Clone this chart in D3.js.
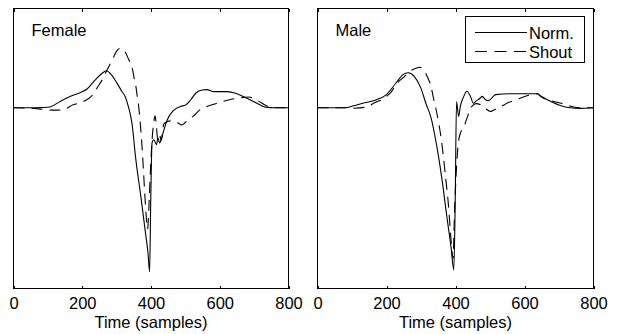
<!DOCTYPE html>
<html>
<head>
<meta charset="utf-8">
<script src="https://cdn.jsdelivr.net/npm/d3@7"></script>
<style>
  html, body { margin: 0; padding: 0; background: #fff; }
  svg { display: block; }
  text { font-family: "Liberation Sans", Arial, Helvetica, sans-serif; fill: #000; }
</style>
</head>
<body>
<svg id="chart" width="619" height="334"></svg>
<script>
// ---------- data ----------
const xTicks = [0, 200, 400, 600, 800];
const xLabel = "Time (samples)";
const panelTitles = ["Female", "Male"];
const seriesNames = ["Norm.", "Shout"];

const femaleNormX = [0, 60, 100, 108, 137, 166, 195, 214, 238, 258, 270, 285, 301, 315, 325, 335, 345, 355, 371, 384, 391, 396, 399, 403, 408, 416, 420, 425, 432, 437, 447, 466, 486, 501, 515, 530, 549, 563, 583, 622, 646, 670, 694, 718, 737, 760, 800];
const femaleNormY = [0, 0, 0.003, 0.006, 0.04, 0.07, 0.093, 0.114, 0.17, 0.21, 0.225, 0.2, 0.15, 0.1, 0.067, 0.0, -0.1, -0.3, -0.55, -0.765, -0.88, -1.0, -0.6, -0.215, -0.195, -0.225, -0.183, -0.215, -0.175, -0.14, -0.075, -0.016, 0.008, 0.016, 0.047, 0.088, 0.108, 0.11, 0.098, 0.098, 0.088, 0.067, 0.043, 0.016, 0.002, 0, 0];

const femaleShoutX = [0, 50, 87, 117, 143, 175, 195, 214, 229, 243, 258, 272, 287, 300, 312, 325, 335, 345, 352, 356, 360, 364, 369, 374, 378, 382, 386, 390, 394, 398, 403, 408, 412, 416, 420, 425, 430, 437, 447, 460, 470, 480, 490, 500, 510, 524, 544, 560, 573, 597, 631, 660, 684, 700, 713, 738, 760, 800];
const femaleShoutY = [0, -0.003, -0.01, -0.015, -0.013, 0.02, 0.03, 0.05, 0.075, 0.12, 0.17, 0.23, 0.29, 0.345, 0.362, 0.34, 0.295, 0.245, 0.17, 0.13, 0.07, 0.01, -0.1, -0.24, -0.38, -0.53, -0.66, -0.74, -0.6, -0.4, -0.2, -0.09, -0.05, -0.12, -0.2, -0.17, -0.2, -0.1, -0.085, -0.08, -0.085, -0.095, -0.105, -0.09, -0.07, -0.05, -0.01, 0.005, 0.015, 0.03, 0.05, 0.06, 0.065, 0.055, 0.04, 0.01, 0, 0];

const maleNormX = [0, 80, 102, 131, 169, 198, 227, 247, 263, 281, 300, 314, 329, 346, 361, 375, 387, 395, 399, 403, 409, 414, 424, 433, 443, 452, 458, 472, 477, 487, 496, 511, 516, 556, 600, 637, 646, 684, 715, 733, 760, 800];
const maleNormY = [0, 0, 0.01, 0.027, 0.047, 0.077, 0.149, 0.2, 0.213, 0.19, 0.118, 0.027, -0.06, -0.237, -0.44, -0.665, -0.85, -0.99, -0.6, 0.037, -0.053, 0.008, 0.069, 0.1, 0.07, 0.027, 0.038, 0.059, 0.069, 0.049, 0.043, 0.072, 0.08, 0.085, 0.085, 0.085, 0.073, 0.03, 0.006, 0, -0.004, 0];

const maleShoutX = [0, 90, 107, 144, 165, 185, 198, 215, 231, 252, 270, 285, 295, 305, 318, 329, 337, 344, 351, 358, 365, 372, 379, 385, 390, 393, 397, 402, 408, 415, 424, 433, 448, 460, 475, 487, 501, 510, 520, 535, 550, 574, 603, 638, 646, 685, 714, 739, 760, 800];
const maleShoutY = [0, 0, -0.003, 0.005, 0.03, 0.047, 0.065, 0.1, 0.15, 0.19, 0.225, 0.24, 0.247, 0.24, 0.19, 0.13, 0.05, -0.014, -0.09, -0.18, -0.3, -0.44, -0.58, -0.75, -0.88, -0.92, -0.65, -0.4, -0.22, -0.15, -0.12, -0.065, 0.01, 0.025, 0.015, -0.005, -0.023, -0.015, -0.005, 0.01, 0.028, 0.047, 0.07, 0.085, 0.069, 0.038, 0.023, 0.006, 0, 0];

// ---------- layout ----------
const svg = d3.select("#chart");
const plotTop = 8.5, plotBottom = 288.5;
const panels = [
  { left: 13.5, right: 288.5, title: panelTitles[0],
    norm: { x: femaleNormX, y: femaleNormY }, shout: { x: femaleShoutX, y: femaleShoutY } },
  { left: 317.5, right: 593.5, title: panelTitles[1],
    norm: { x: maleNormX, y: maleNormY }, shout: { x: maleShoutX, y: maleShoutY } }
];
const FONT = 16.5;
const DASH = "11,7";

const yScale = d3.scaleLinear().domain([-1.1024, 0.6049]).range([plotBottom, plotTop]);

panels.forEach((p, i) => {
  const xScale = d3.scaleLinear().domain([0, 800]).range([p.left, p.right]);
  const g = svg.append("g");

  const line = d3.line()
    .x(d => xScale(d[0]))
    .y(d => yScale(d[1]))
    .curve(d3.curveMonotoneX);

  const normData = p.norm.x.map((v, k) => [v, p.norm.y[k]]);
  const shoutData = p.shout.x.map((v, k) => [v, p.shout.y[k]]);

  g.append("path").datum(shoutData)
    .attr("d", line).attr("fill", "none").attr("stroke", "#000")
    .attr("stroke-width", 1.1).attr("stroke-dasharray", DASH);
  g.append("path").datum(normData)
    .attr("d", line).attr("fill", "none").attr("stroke", "#000")
    .attr("stroke-width", 1.1);

  // frame
  g.append("rect")
    .attr("x", p.left).attr("y", plotTop)
    .attr("width", p.right - p.left).attr("height", plotBottom - plotTop)
    .attr("fill", "none").attr("stroke", "#000").attr("stroke-width", 1)
    .attr("shape-rendering", "crispEdges");

  // bottom axis (ticks inside)
  const ax = g.append("g").attr("transform", `translate(0,${plotBottom})`)
    .call(d3.axisBottom(xScale).tickValues(xTicks).tickSizeInner(-3).tickSizeOuter(0).tickFormat(d3.format("d")));
  ax.select(".domain").remove();
  ax.selectAll(".tick line").attr("stroke", "#000").attr("shape-rendering", "crispEdges");
  ax.selectAll(".tick text").attr("dy", null).attr("y", 20.5)
    .attr("font-size", FONT).attr("font-family", '"Liberation Sans", Arial, sans-serif').attr("fill", "#000");

  // top axis (ticks only)
  const axT = g.append("g").attr("transform", `translate(0,${plotTop})`)
    .call(d3.axisTop(xScale).tickValues(xTicks).tickSizeInner(-3).tickSizeOuter(0).tickFormat(""));
  axT.select(".domain").remove();
  axT.selectAll(".tick line").attr("stroke", "#000").attr("shape-rendering", "crispEdges");

  // x label
  g.append("text").attr("x", (p.left + p.right) / 2).attr("y", 328)
    .attr("text-anchor", "middle").attr("font-size", FONT).text(xLabel);

  // panel title
  g.append("text").attr("x", p.left + 18).attr("y", 36)
    .attr("font-size", FONT).text(p.title);

  // legend in second panel
  if (i === 1) {
    const lg = g.append("g");
    lg.append("rect").attr("x", 465.5).attr("y", 16.5).attr("width", 119).attr("height", 46)
      .attr("fill", "#fff").attr("stroke", "#000").attr("stroke-width", 1)
      .attr("shape-rendering", "crispEdges");
    const rows = [{ name: seriesNames[0], dash: null, ly: 32.5, ty: 39 },
                  { name: seriesNames[1], dash: "12,7.5", ly: 51.5, ty: 58 }];
    rows.forEach(r => {
      const l = lg.append("line").attr("x1", 475).attr("x2", 527)
        .attr("y1", r.ly).attr("y2", r.ly)
        .attr("stroke", "#000").attr("stroke-width", 1.1);
      if (r.dash) l.attr("stroke-dasharray", r.dash);
      lg.append("text").attr("x", 529).attr("y", r.ty).attr("font-size", FONT).text(r.name);
    });
  }
});
</script>
</body>
</html>
